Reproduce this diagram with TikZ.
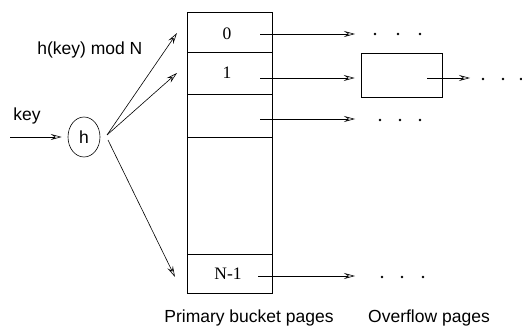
\documentclass[tikz,border=0pt]{standalone}
\usepackage{fontspec}
\setmainfont{Liberation Sans}
\newfontfamily\serifnum{Liberation Serif}
\usetikzlibrary{arrows.meta,shapes.geometric}
\begin{document}
\begin{tikzpicture}[x=1pt,y=-1pt,
  font=\fontsize{17.5}{20}\selectfont,
  line width=0.6pt,
  arr/.style={-{Stealth[open,length=11pt,width=6pt,inset=4pt]}},
  lbl/.style={inner sep=0pt, anchor=base west},
  captxt/.style={inner sep=0pt, anchor=base},
  num/.style={inner sep=0pt, font=\fontsize{17.5}{20}\selectfont\serifnum},
  dotc/.style={circle, fill, inner sep=0pt, minimum size=2.6pt},
  boxed/.style={draw, inner sep=0pt, line width=0.6pt}]
\useasboundingbox (0,0) rectangle (522,326);

% primary bucket pages
\node[boxed, minimum width=85pt, minimum height=281pt, anchor=north west] (bucket) at (187,12) {};
\coordinate (d1l) at (187,52);  \coordinate (d1r) at (272,52);
\coordinate (d2l) at (187,94);  \coordinate (d2r) at (272,94);
\coordinate (d3l) at (187,137); \coordinate (d3r) at (272,137);
\coordinate (d4l) at (187,254); \coordinate (d4r) at (272,254);
\draw (d1l) -- (d1r);
\draw (d2l) -- (d2r);
\draw (d3l) -- (d3r);
\draw (d4l) -- (d4r);

\node[num] (s0) at (227,34) {0};
\node[num] (s1) at (227,73) {1};
\node[num] (sN) at (228,274) {N-1};

% hash function
\node[lbl] (keylbl) at (13,121) {key};
\node[lbl] (modlbl) at (37,55) {h(key) mod N};
\node[draw, ellipse, minimum width=32pt, minimum height=40pt, inner sep=0pt] (h) at (84,137) {h};
\coordinate (keyin) at (10,137);
\draw[arr, shorten >=6pt] (keyin) -- (h);

\coordinate (hout1) at (107,135);
\coordinate (hout2) at (108,140);
\coordinate (t0) at (177,33);
\coordinate (t1) at (177,73);
\coordinate (tN) at (175,277);
\draw[arr] (hout1) -- (t0);
\draw[arr] (hout1) -- (t1);
\draw[arr] (hout2) -- (tN);

% chains
\coordinate (r0s) at (260,34);  \coordinate (r0e) at (355,34);
\coordinate (r1s) at (260,78);
\coordinate (r2s) at (260,119); \coordinate (r2e) at (355,119);
\coordinate (rNs) at (258,276); \coordinate (rNe) at (355,276);
\node[boxed, minimum width=81pt, minimum height=44pt] (ovf) at (401.5,75) {};
\draw[arr] (r0s) -- (r0e);
\draw[arr, shorten >=6pt] (r1s) -- (r1s -| ovf.west);
\draw[arr] (r2s) -- (r2e);
\draw[arr] (rNs) -- (rNe);
\coordinate (os) at (427,78); \coordinate (oe) at (470,78);
\draw[arr] (os) -- (oe);

\node[dotc] (a1) at (375,34) {}; \node[dotc] (a2) at (398,34) {}; \node[dotc] (a3) at (420,34) {};
\node[dotc] (b1) at (483,79) {}; \node[dotc] (b2) at (503,79) {}; \node[dotc] (b3) at (521,79) {};
\node[dotc] (c1) at (380,120) {}; \node[dotc] (c2) at (400,120) {}; \node[dotc] (c3) at (420,120) {};
\node[dotc] (e1) at (382,277) {}; \node[dotc] (e2) at (402,277) {}; \node[dotc] (e3) at (423,277) {};

% captions
\node[captxt] (pcap) at (249,322) {Primary bucket pages};
\node[captxt] (ocap) at (429,322) {Overflow pages};
\end{tikzpicture}
\end{document}
